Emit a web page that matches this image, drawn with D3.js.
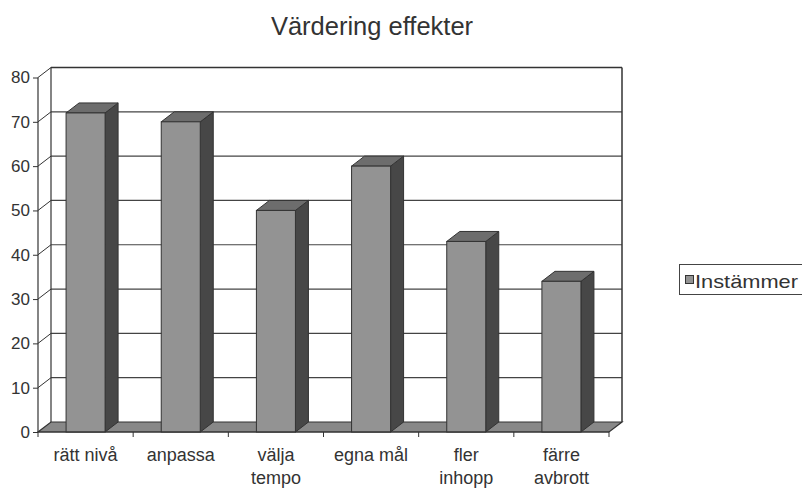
<!DOCTYPE html>
<html><head><meta charset="utf-8">
<script src="https://cdn.jsdelivr.net/npm/d3@7"></script>
<style>
html,body{margin:0;padding:0;background:#fff;}
svg{display:block;font-family:"Liberation Sans",Arial,sans-serif;}
</style></head>
<body><svg id="c" width="802" height="491"></svg>
<script>
const title = "Värdering effekter";
const categories = [["rätt nivå"],["anpassa"],["välja","tempo"],["egna mål"],["fler","inhopp"],["färre","avbrott"]];
const values = [72, 70, 50, 60, 43, 34];
const seriesName = "Instämmer";
const yTicks = [0,10,20,30,40,50,60,70,80];

const svg = d3.select("#c");
const DX = 13, DY = -10;
const x0 = 38, x1 = 609, yBase = 432, yTop = 77.5;
const ink = "#333";
const x = d3.scaleBand().domain(d3.range(categories.length)).range([x0, x1]).padding(0);
const y = d3.scaleLinear().domain([0, 80]).range([yBase, yTop]);
const bw = x.bandwidth() * 0.41;

// title
svg.append("text").attr("x", 372).attr("y", 35).attr("text-anchor","middle")
  .attr("font-size", 25.5).attr("fill","#333").text(title);

// back wall gridlines
const g = svg.append("g");
yTicks.forEach(t => {
  if (t === 0) return;
  g.append("line").attr("x1", x0+DX).attr("x2", x1+DX).attr("y1", y(t)+DY).attr("y2", y(t)+DY)
    .attr("stroke", t===80 ? ink : "#444").attr("stroke-width", t===80?1.5:1.2);
  g.append("line").attr("x1", x0).attr("y1", y(t)).attr("x2", x0+DX).attr("y2", y(t)+DY)
    .attr("stroke", ink).attr("stroke-width", 1);
});
g.append("line").attr("x1", x1+DX).attr("x2", x1+DX).attr("y1", y(80)+DY).attr("y2", yBase+DY).attr("stroke", ink).attr("stroke-width",1.5);
g.append("line").attr("x1", x0+DX).attr("x2", x0+DX).attr("y1", y(80)+DY).attr("y2", yBase+DY).attr("stroke", ink).attr("stroke-width",1.2);

// floor
g.append("path").attr("d", `M${x0},${yBase}L${x1},${yBase}L${x1+DX},${yBase+DY}L${x0+DX},${yBase+DY}Z`)
  .attr("fill", "#888").attr("stroke", ink).attr("stroke-width", 1.2);

// y axis
const yAxis = d3.axisLeft(y).tickValues(yTicks).tickSize(5).tickPadding(3);
const ya = svg.append("g").attr("transform", `translate(${x0},0)`).call(yAxis);
ya.select(".domain").remove();
ya.append("line").attr("x1",0).attr("x2",0).attr("y1",y(80)).attr("y2",yBase).attr("stroke",ink).attr("stroke-width",1.2);
ya.selectAll(".tick line").attr("stroke", ink);
ya.selectAll(".tick text").attr("font-size", 17).attr("fill", "#333").attr("font-family","Liberation Sans, Arial, sans-serif");

// bars
const bars = svg.append("g");
values.forEach((v, i) => {
  const bx = x(i) + (x.bandwidth() - bw) / 2;
  const yv = y(v);
  bars.append("path").attr("d", `M${bx+bw},${yv}L${bx+bw+DX},${yv+DY}L${bx+bw+DX},${yBase+DY}L${bx+bw},${yBase}Z`)
    .attr("fill", "#474747").attr("stroke", ink).attr("stroke-width", 1);
  bars.append("path").attr("d", `M${bx},${yv}L${bx+DX},${yv+DY}L${bx+bw+DX},${yv+DY}L${bx+bw},${yv}Z`)
    .attr("fill", "#6d6d6d").attr("stroke", ink).attr("stroke-width", 1);
  bars.append("rect").attr("x", bx).attr("y", yv).attr("width", bw).attr("height", yBase - yv)
    .attr("fill", "#939393").attr("stroke", ink).attr("stroke-width", 1);
});

// x axis
const xa = svg.append("g");
xa.append("line").attr("x1", x0).attr("x2", x1).attr("y1", yBase).attr("y2", yBase).attr("stroke", ink).attr("stroke-width", 1.2);
d3.range(categories.length + 1).forEach(i => {
  const tx = i < categories.length ? x(i) : x1;
  xa.append("line").attr("x1", tx).attr("x2", tx).attr("y1", yBase).attr("y2", yBase+5).attr("stroke", ink);
});
categories.forEach((lines, i) => {
  const t = xa.append("text").attr("text-anchor","middle").attr("font-size",18).attr("fill","#333")
    .attr("x", x(i) + x.bandwidth()/2).attr("y", 461);
  lines.forEach((l, j) => t.append("tspan").attr("x", x(i) + x.bandwidth()/2).attr("dy", j ? 23 : 0).text(l));
});

// legend
const lg = svg.append("g");
lg.append("rect").attr("x", 679.5).attr("y", 264.5).attr("width", 130).attr("height", 30).attr("fill","#fff").attr("stroke","#444");
lg.append("rect").attr("x", 685.5).attr("y", 275.5).attr("width", 8).attr("height", 8).attr("fill","#939393").attr("stroke","#333");
lg.append("text").attr("x", 695).attr("y", 288).attr("font-size", 19).attr("fill","#333")
  .attr("textLength", 103).attr("lengthAdjust", "spacingAndGlyphs").text(seriesName);
</script></body></html>
